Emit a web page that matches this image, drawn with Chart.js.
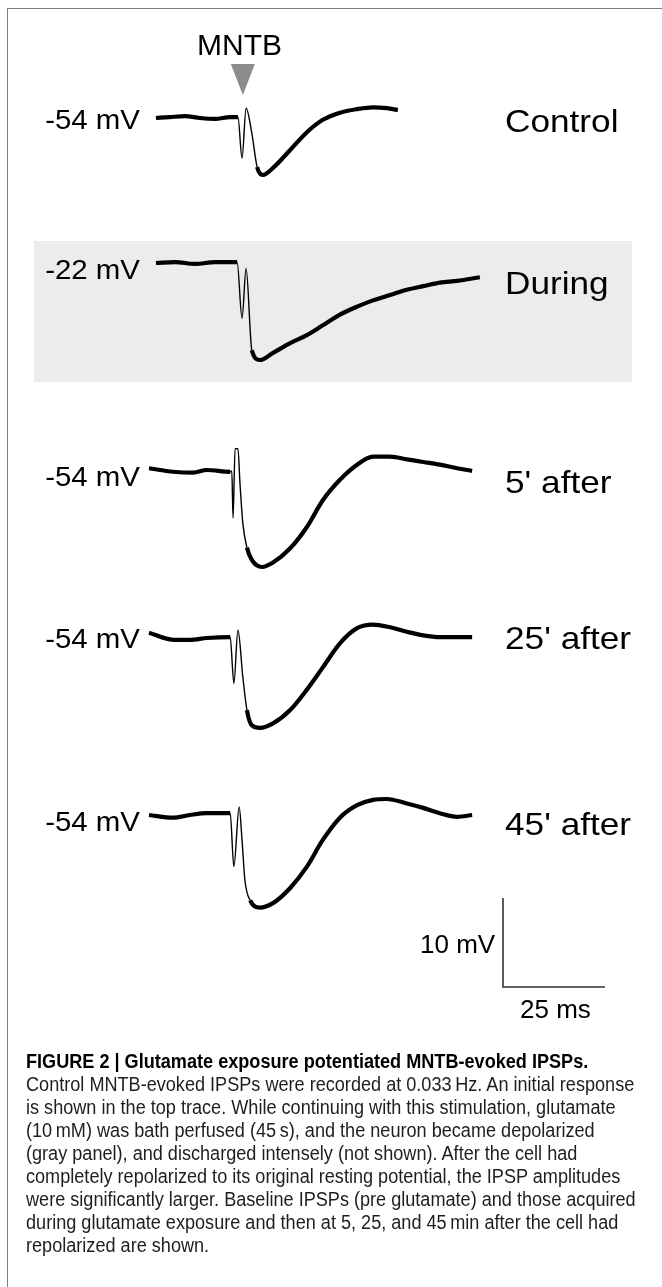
<!DOCTYPE html>
<html lang="en">
<head>
<meta charset="utf-8">
<title>Figure 2</title>
<script src="https://cdn.jsdelivr.net/npm/chart.js"></script>
<style>
  html, body { margin: 0; padding: 0; background: #fff; }
  #fig { position: relative; width: 662px; height: 1287px; overflow: hidden; font-family: "Liberation Sans", Arial, sans-serif; color: #000; }
  #frame { position: absolute; left: 7px; top: 8px; width: 700px; height: 1400px; border-left: 1.5px solid #7c7c7c; border-top: 1.5px solid #7c7c7c; }
  #panel { position: absolute; left: 34px; top: 241px; width: 598px; height: 141px; background: #ececec; }
  #chart { position: absolute; left: 0; top: 0; }
  .lbl { position: absolute; white-space: nowrap; line-height: 1; }
  .left { font-size: 27px; transform: scaleX(1.09); transform-origin: right center; text-align: right; width: 140px; left: 0; }
  .right { font-size: 32px; transform: scaleX(1.1); transform-origin: left center; left: 505px; }
  #caption { position: absolute; left: 26px; top: 1050px; white-space: nowrap; font-size: 20px; line-height: 23px; color: #1e1e1e; transform: scaleX(0.905); transform-origin: left top; }
  #caption b { color: #000; }
</style>
</head>
<body>
<div id="fig">
  <div id="frame"></div>
  <div id="panel"></div>
  <canvas id="chart" width="662" height="1287"></canvas>

  <div class="lbl" style="left:197px; top:30px; font-size:30px;">MNTB</div>

  <div class="lbl left" style="top:107px;">-54 mV</div>
  <div class="lbl left" style="top:257px;">-22 mV</div>
  <div class="lbl left" style="top:464px;">-54 mV</div>
  <div class="lbl left" style="top:626px;">-54 mV</div>
  <div class="lbl left" style="top:809px;">-54 mV</div>

  <div class="lbl right" style="top:105px;">Control</div>
  <div class="lbl right" style="top:267px;">During</div>
  <div class="lbl right" style="top:466px;">5' after</div>
  <div class="lbl right" style="top:622px;">25' after</div>
  <div class="lbl right" style="top:808px;">45' after</div>

  <div class="lbl" style="left:420px; top:931px; width:73px; text-align:right; font-size:26px;">10 mV</div>
  <div class="lbl" style="left:520px; top:996px; font-size:26px;">25 ms</div>

  <div id="caption">
    <b>FIGURE 2 | Glutamate exposure potentiated MNTB-evoked IPSPs.</b><br>
    Control MNTB-evoked IPSPs were recorded at 0.033&#8201;Hz. An initial response<br>
    is shown in the top trace. While continuing with this stimulation, glutamate<br>
    (10&#8201;mM) was bath perfused (45&#8201;s), and the neuron became depolarized<br>
    (gray panel), and discharged intensely (not shown). After the cell had<br>
    completely repolarized to its original resting potential, the IPSP amplitudes<br>
    were significantly larger. Baseline IPSPs (pre glutamate) and those acquired<br>
    during glutamate exposure and then at 5, 25, and 45&#8201;min after the cell had<br>
    repolarized are shown.
  </div>
</div>

<script>
// traces: time (ms from trace start), membrane potential (mV)
var controlT = [1.7, 5.1, 8.8, 12.5, 16.2, 19.9, 21.8, 22.8, 23.8, 25.2, 26.5, 27.9, 30.4, 34.6, 38.7, 42.6, 46.8, 51.0, 54.9, 58.3, 61.0];
var controlV = [-54.0, -53.9, -53.8, -54.0, -54.1, -53.9, -53.9, -58.5, -52.9, -55.7, -59.5, -60.4, -59.6, -57.6, -55.6, -54.2, -53.4, -53.0, -52.8, -52.9, -53.1];

var duringT = [1.7, 6.4, 11.3, 16.2, 21.6, 22.8, 23.8, 25.2, 27.2, 30.4, 34.6, 38.7, 42.6, 46.8, 51.0, 54.9, 59.1, 63.2, 67.2, 71.3, 75.5, 81.1];
var duringV = [-22.0, -21.9, -22.1, -21.9, -21.9, -28.2, -22.6, -31.8, -32.9, -32.1, -31.0, -30.1, -29.0, -27.8, -26.9, -26.2, -25.6, -25.0, -24.6, -24.2, -24.0, -23.6];

var after5T = [0, 5.9, 10.8, 14.2, 19.9, 20.3, 20.6, 21.1, 21.8, 22.3, 23.0, 24.0, 25.2, 27.7, 30.4, 34.6, 38.7, 42.6, 46.8, 51.0, 54.9, 59.1, 63.2, 67.2, 71.3, 75.5, 79.2];
var after5V = [-53.8, -54.2, -54.3, -54.0, -54.2, -54.1, -59.4, -51.6, -51.6, -55.5, -60.0, -62.7, -64.1, -64.9, -64.4, -62.8, -60.4, -57.4, -55.1, -53.4, -52.5, -52.5, -52.8, -53.1, -53.4, -53.8, -54.1];

var after25T = [0, 5.9, 10.0, 14.2, 19.9, 20.8, 21.8, 23.0, 24.0, 25.2, 27.2, 30.4, 34.6, 38.7, 42.6, 46.8, 51.0, 54.9, 59.1, 63.2, 67.2, 71.3, 79.2];
var after25V = [-53.4, -54.2, -54.2, -54.0, -53.9, -59.1, -53.1, -58.4, -62.1, -63.8, -64.1, -63.6, -62.1, -59.8, -57.3, -54.6, -52.9, -52.5, -52.8, -53.3, -53.7, -53.9, -53.9];

var after45T = [0, 5.9, 10.0, 14.2, 19.9, 20.8, 22.1, 22.8, 23.5, 24.8, 27.2, 30.4, 34.6, 38.7, 42.6, 46.8, 51.0, 54.9, 58.3, 63.2, 67.2, 71.3, 75.5, 79.2];
var after45V = [-54.0, -54.3, -54.0, -53.8, -53.8, -59.8, -53.1, -56.8, -61.3, -63.6, -64.4, -63.9, -62.2, -59.8, -56.8, -54.3, -52.9, -52.3, -52.2, -52.7, -53.2, -53.8, -54.2, -54.0];

var restingMv = [-54, -22, -54, -54, -54];
var stimMs = 23;          // MNTB stimulus marker
var barMv = 10, barMs = 25;

// layout (pixels)
var pxPerMs = 102 / 25, pxPerMv = 89 / 10;
var originPx = 149;
var baselinePx = [118, 263, 470, 638, 815];
var thinWin = [[21.5, 26.6], [21.5, 26.0], [19.8, 24.1], [19.8, 24.1], [19.8, 24.9]];
var W = 662, H = 1287;

var traces = [[controlT, controlV], [duringT, duringV], [after5T, after5V], [after25T, after25V], [after45T, after45V]];

var scales = {
    x: { type: 'linear', display: false, min: -originPx / pxPerMs, max: (W - originPx) / pxPerMs }
};
var datasets = traces.map(function(tr, i) {
    var top = restingMv[i] + baselinePx[i] / pxPerMv;
    scales['y' + i] = { type: 'linear', display: false, max: top, min: top - H / pxPerMv };
    var win = thinWin[i];
    return {
        data: tr[0].map(function(t, k) { return { x: t, y: tr[1][k] }; }),
        yAxisID: 'y' + i,
        borderColor: '#000',
        borderWidth: 4.2,
        pointRadius: 0,
        cubicInterpolationMode: 'monotone',
        segment: {
            borderWidth: function(ctx) {
                return (ctx.p0.parsed.x >= win[0] && ctx.p1.parsed.x <= win[1]) ? 1.4 : 4.2;
            }
        }
    };
});

var extras = {
    id: 'extras',
    afterDatasetsDraw: function(chart) {
        var c = chart.ctx, x = chart.scales.x, y = chart.scales.y4;
        // stimulus triangle
        var sx = x.getPixelForValue(stimMs);
        c.save();
        c.fillStyle = '#8c8c8c';
        c.beginPath();
        c.moveTo(sx - 12, 64);
        c.lineTo(sx + 12, 64);
        c.lineTo(sx, 95);
        c.closePath();
        c.fill();
        // scale bar
        var x0 = 503, y0 = 987;
        var w = x.getPixelForValue(barMs) - x.getPixelForValue(0);
        var h = y.getPixelForValue(-54) - y.getPixelForValue(-54 + barMv);
        c.strokeStyle = '#333';
        c.lineWidth = 1.6;
        c.beginPath();
        c.moveTo(x0, y0 - h);
        c.lineTo(x0, y0);
        c.lineTo(x0 + w, y0);
        c.stroke();
        c.restore();
    }
};

new Chart(document.getElementById('chart'), {
    type: 'line',
    data: { datasets: datasets },
    options: {
        responsive: false,
        animation: false,
        layout: { padding: 0 },
        plugins: { legend: { display: false }, tooltip: { enabled: false } },
        scales: scales
    },
    plugins: [extras]
});
</script>
</body>
</html>
